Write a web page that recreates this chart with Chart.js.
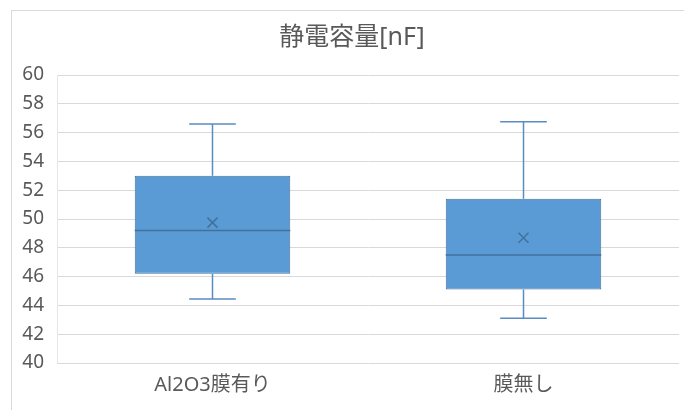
<!DOCTYPE html>
<html>
<head>
<meta charset="utf-8">
<script src="https://cdn.jsdelivr.net/npm/chart.js@4.4.0/dist/chart.umd.min.js"></script>
<style>
  html, body { margin: 0; padding: 0; background: #fff; }
  #wrap { width: 684px; height: 410px; }
</style>
</head>
<body>
<div id="wrap"><canvas id="boxChart"></canvas></div>
<script>
// box & whisker values
var categories = ['Al2O3膜有り', '膜無し'];
var minVals = [44.45, 43.1];
var q1Vals = [46.2, 45.1];
var medianVals = [49.2, 47.5];
var meanVals = [49.75, 48.7];
var q3Vals = [53.0, 51.4];
var maxVals = [56.6, 56.75];
var chartTitle = '静電容量[nF]';

var boxes = categories.map(function (c, i) { return [q1Vals[i], q3Vals[i]]; });

var fontFamily = "'Noto Sans', 'Noto Sans CJK JP', sans-serif";
var textColor = '#595959';
var gridColor = '#d9d9d9';

// whiskers, median line and mean cross, drawn through the chart scales
const boxExtras = {
    id: 'boxExtras',
    afterDatasetsDraw(chart) {
        const ctx = chart.ctx;
        const xs = chart.scales.x;
        const ys = chart.scales.y;
        const meta = chart.getDatasetMeta(0);
        ctx.save();
        meta.data.forEach(function (bar, i) {
            const cx = xs.getPixelForValue(i);
            const half = bar.width / 2;
            const cap = bar.width * 0.15;
            const yMin = ys.getPixelForValue(minVals[i]);
            const yMax = ys.getPixelForValue(maxVals[i]);
            const yQ1 = ys.getPixelForValue(q1Vals[i]);
            const yQ3 = ys.getPixelForValue(q3Vals[i]);
            const yMed = ys.getPixelForValue(medianVals[i]);
            const yMean = ys.getPixelForValue(meanVals[i]);

            ctx.strokeStyle = '#5a8cc4';
            ctx.lineWidth = 1.5;
            ctx.beginPath();
            ctx.moveTo(cx, yQ3); ctx.lineTo(cx, yMax);
            ctx.moveTo(cx - cap, yMax); ctx.lineTo(cx + cap, yMax);
            ctx.moveTo(cx, yQ1); ctx.lineTo(cx, yMin);
            ctx.moveTo(cx - cap, yMin); ctx.lineTo(cx + cap, yMin);
            ctx.stroke();

            // median
            ctx.strokeStyle = '#41719c';
            ctx.beginPath();
            ctx.moveTo(cx - half, yMed); ctx.lineTo(cx + half, yMed);
            ctx.stroke();

            // mean marker
            const m = 5;
            ctx.beginPath();
            ctx.moveTo(cx - m, yMean - m); ctx.lineTo(cx + m, yMean + m);
            ctx.moveTo(cx + m, yMean - m); ctx.lineTo(cx - m, yMean + m);
            ctx.stroke();
        });
        ctx.restore();
    }
};

// light frame round the chart and the title (centred on the spreadsheet frame, not the canvas)
const chartFrame = {
    id: 'chartFrame',
    beforeDraw(chart) {
        const ctx = chart.ctx;
        ctx.save();
        ctx.strokeStyle = '#d9d9d9';
        ctx.lineWidth = 1;
        ctx.strokeRect(11.5, 10.5, chart.width + 20, chart.height + 20);
        ctx.fillStyle = textColor;
        ctx.font = "25px " + fontFamily;
        ctx.textAlign = 'center';
        ctx.textBaseline = 'middle';
        ctx.fillText(chartTitle, 352, 38);
        ctx.restore();
    }
};

new Chart(document.getElementById('boxChart'), {
    type: 'bar',
    data: {
        labels: categories,
        datasets: [{
            label: '静電容量',
            data: boxes,
            backgroundColor: '#5b9bd5',
            borderColor: '#41719c',
            borderWidth: 1,
            borderSkipped: false,
            categoryPercentage: 1.0,
            barPercentage: 0.5
        }]
    },
    options: {
        responsive: true,
        maintainAspectRatio: false,
        animation: false,
        layout: { padding: { left: 0, right: 5, top: 75, bottom: 0 } },
        plugins: {
            legend: { display: false },
            tooltip: { enabled: false },
            title: { display: false }
        },
        scales: {
            x: {
                grid: { display: false, drawTicks: false },
                border: { display: false },
                ticks: {
                    color: textColor,
                    font: { family: fontFamily, size: 20 },
                    padding: 10
                },
                afterFit: function (axis) { axis.height = 47; }
            },
            y: {
                min: 40,
                max: 60,
                grid: { color: gridColor, drawTicks: false },
                border: { display: true, color: '#e6e6e6' },
                ticks: {
                    stepSize: 2,
                    color: textColor,
                    font: { family: fontFamily, size: 19 },
                    padding: 13
                },
                afterFit: function (axis) { axis.width = 57; }
            }
        }
    },
    plugins: [chartFrame, boxExtras]
});
</script>
</body>
</html>
